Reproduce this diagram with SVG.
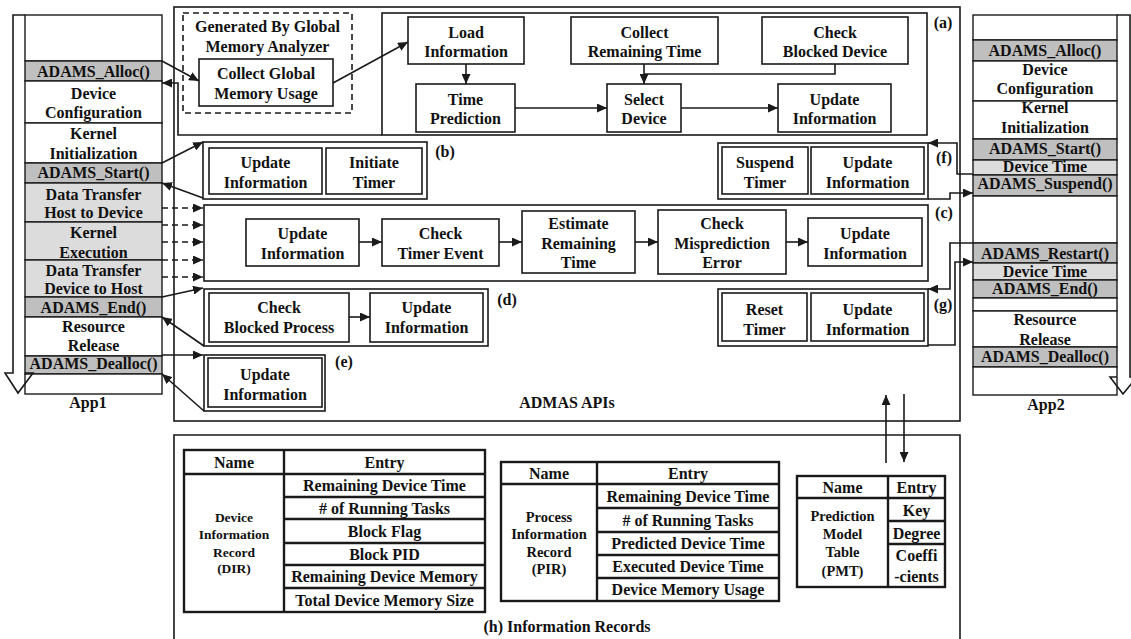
<svg xmlns="http://www.w3.org/2000/svg" width="1131" height="639" viewBox="0 0 1131 639">
<defs>
<style>
.t{font-family:"Liberation Serif","Times New Roman",serif;font-weight:bold;font-size:16px;text-anchor:middle;fill:#111}
.s13{font-size:13.5px}
.s14{font-size:14.5px}
.b{fill:none;stroke:#1a1a1a;stroke-width:1.6}
.bw{fill:#fff;stroke:#1a1a1a;stroke-width:1.6}
.dk{fill:#bfbfbf;stroke:#1a1a1a;stroke-width:1.4}
.lt{fill:#dcdcdc;stroke:#1a1a1a;stroke-width:1.4}
.wh{fill:#fff;stroke:#1a1a1a;stroke-width:1.4}
.ln{fill:none;stroke:#1a1a1a;stroke-width:1.6}
.ds{fill:none;stroke:#1a1a1a;stroke-width:1.6;stroke-dasharray:6 4}
.tb{fill:none;stroke:#1a1a1a;stroke-width:2.4}
</style>
<marker id="ah" markerUnits="userSpaceOnUse" markerWidth="11" markerHeight="9" refX="10" refY="4.5" orient="auto">
<path d="M0,0 L10,4.5 L0,9 z" fill="#1a1a1a"/>
</marker>
</defs>
<rect width="1131" height="639" fill="#fff"/>

<g id="app1">
<rect class="wh" x="25" y="15" width="137" height="46"/>
<rect class="dk" x="25" y="61" width="137" height="20"/>
<rect class="wh" x="25" y="81" width="137" height="42"/>
<rect class="wh" x="25" y="123" width="137" height="40"/>
<rect class="dk" x="25" y="163" width="137" height="20"/>
<rect class="lt" x="25" y="183" width="137" height="39"/>
<rect class="lt" x="25" y="222" width="137" height="38"/>
<rect class="lt" x="25" y="260" width="137" height="37"/>
<rect class="dk" x="25" y="297" width="137" height="20"/>
<rect class="wh" x="25" y="317" width="137" height="39"/>
<rect class="dk" x="25" y="356" width="137" height="18"/>
<rect class="wh" x="25" y="374" width="137" height="20"/>
<polyline class="ln" points="25,15 13,15 13,373 5,373 18,393 33,373 25,373"/>
<text class="t" x="93.5" y="77">ADAMS_Alloc()</text>
<text class="t" x="93.5" y="99">Device</text>
<text class="t" x="93.5" y="118">Configuration</text>
<text class="t" x="93.5" y="139">Kernel</text>
<text class="t" x="93.5" y="159">Initialization</text>
<text class="t" x="93.5" y="178">ADAMS_Start()</text>
<text class="t" x="93.5" y="200">Data Transfer</text>
<text class="t" x="93.5" y="218">Host to Device</text>
<text class="t" x="93.5" y="238">Kernel</text>
<text class="t" x="93.5" y="258">Execution</text>
<text class="t" x="93.5" y="276">Data Transfer</text>
<text class="t" x="93.5" y="294">Device to Host</text>
<text class="t" x="93.5" y="313">ADAMS_End()</text>
<text class="t" x="93.5" y="332">Resource</text>
<text class="t" x="93.5" y="351">Release</text>
<text class="t" x="93.5" y="369">ADAMS_Dealloc()</text>
<text class="t" x="88" y="408">App1</text>
</g>

<g id="app2">
<rect class="wh" x="973" y="15" width="144" height="25"/>
<rect class="dk" x="973" y="40" width="144" height="21"/>
<rect class="wh" x="973" y="61" width="144" height="40"/>
<rect class="wh" x="973" y="101" width="144" height="38"/>
<rect class="dk" x="973" y="139" width="144" height="21"/>
<rect class="lt" x="973" y="160" width="144" height="15"/>
<rect class="dk" x="973" y="175" width="144" height="21"/>
<rect class="wh" x="973" y="196" width="144" height="47"/>
<rect class="dk" x="973" y="243" width="144" height="20"/>
<rect class="lt" x="973" y="263" width="144" height="17"/>
<rect class="dk" x="973" y="280" width="144" height="18"/>
<rect class="wh" x="973" y="298" width="144" height="13"/>
<rect class="wh" x="973" y="311" width="144" height="36"/>
<rect class="dk" x="973" y="347" width="144" height="20"/>
<rect class="wh" x="973" y="367" width="144" height="28"/>
<polyline class="ln" points="1117,15 1130,15 1130,377 1137,377 1123,394 1110,377 1117,377"/>
<text class="t" x="1045" y="56">ADAMS_Alloc()</text>
<text class="t" x="1045" y="75">Device</text>
<text class="t" x="1045" y="94">Configuration</text>
<text class="t" x="1045" y="113">Kernel</text>
<text class="t" x="1045" y="133">Initialization</text>
<text class="t" x="1045" y="154">ADAMS_Start()</text>
<text class="t" x="1045" y="172">Device Time</text>
<text class="t" x="1045" y="189">ADAMS_Suspend()</text>
<text class="t" x="1045" y="259">ADAMS_Restart()</text>
<text class="t" x="1045" y="277">Device Time</text>
<text class="t" x="1045" y="294">ADAMS_End()</text>
<text class="t" x="1045" y="325">Resource</text>
<text class="t" x="1045" y="345">Release</text>
<text class="t" x="1045" y="362">ADAMS_Dealloc()</text>
<text class="t" x="1046" y="410">App2</text>
</g>

<g id="admas">
<rect class="b" x="174" y="7" width="786" height="414"/>
<text class="t" x="567" y="408">ADMAS APIs</text>
</g>

<g id="gma">
<rect class="ds" x="183" y="13" width="169" height="100"/>
<text class="t" x="267.5" y="32">Generated By Global</text>
<text class="t" x="267.5" y="52">Memory Analyzer</text>
</g>
<g id="collect-global">
<rect class="b" x="199" y="59" width="134" height="47"/>
<text class="t" x="266" y="79">Collect Global</text>
<text class="t" x="266" y="99">Memory Usage</text>
</g>

<g id="box-a">
<rect class="b" x="382" y="13" width="545" height="122"/>
<text class="t" x="943" y="28">(a)</text>
</g>
<g id="load-info">
<rect class="b" x="408" y="17" width="116" height="47"/>
<text class="t" x="466" y="38">Load</text>
<text class="t" x="466" y="57">Information</text>
</g>
<g id="collect-rt">
<rect class="b" x="571" y="17" width="147" height="47"/>
<text class="t" x="644.5" y="38">Collect</text>
<text class="t" x="644.5" y="57">Remaining Time</text>
</g>
<g id="check-bd">
<rect class="b" x="762" y="17" width="146" height="47"/>
<text class="t" x="835" y="38">Check</text>
<text class="t" x="835" y="57">Blocked Device</text>
</g>
<g id="time-pred">
<rect class="b" x="416" y="84" width="99" height="48"/>
<text class="t" x="465.5" y="104.5">Time</text>
<text class="t" x="465.5" y="123.5">Prediction</text>
</g>
<g id="select-dev">
<rect class="b" x="607" y="84" width="74" height="48"/>
<text class="t" x="644" y="104.5">Select</text>
<text class="t" x="644" y="123.5">Device</text>
</g>
<g id="update-a">
<rect class="b" x="778" y="84" width="113" height="48"/>
<text class="t" x="834.5" y="104.5">Update</text>
<text class="t" x="834.5" y="123.5">Information</text>
</g>

<g id="box-b">
<rect class="b" x="203" y="142" width="224" height="57"/>
<rect class="b" x="209" y="148" width="113" height="46"/>
<rect class="b" x="326" y="148" width="96" height="46"/>
<text class="t" x="265.5" y="167.5">Update</text>
<text class="t" x="265.5" y="187.5">Information</text>
<text class="t" x="374" y="167.5">Initiate</text>
<text class="t" x="374" y="187.5">Timer</text>
<text class="t" x="445" y="157">(b)</text>
</g>

<g id="box-f">
<rect class="b" x="718" y="143" width="210" height="56"/>
<rect class="b" x="722" y="147" width="86" height="47"/>
<rect class="b" x="811" y="147" width="113" height="47"/>
<text class="t" x="765" y="167.5">Suspend</text>
<text class="t" x="765" y="187.5">Timer</text>
<text class="t" x="867.5" y="167.5">Update</text>
<text class="t" x="867.5" y="187.5">Information</text>
<text class="t" x="944" y="163">(f)</text>
</g>

<g id="box-c">
<rect class="b" x="204" y="205" width="724" height="76"/>
<rect class="b" x="246" y="219" width="113" height="47"/>
<text class="t" x="302.5" y="238.5">Update</text>
<text class="t" x="302.5" y="258.5">Information</text>
<rect class="b" x="382" y="219" width="117" height="47"/>
<text class="t" x="440.5" y="238.5">Check</text>
<text class="t" x="440.5" y="258.5">Timer Event</text>
<rect class="b" x="522" y="211" width="113" height="62"/>
<text class="t" x="578.5" y="228.5">Estimate</text>
<text class="t" x="578.5" y="248.5">Remaining</text>
<text class="t" x="578.5" y="267.5">Time</text>
<rect class="b" x="658" y="210" width="128" height="64"/>
<text class="t" x="722" y="229">Check</text>
<text class="t" x="722" y="249">Misprediction</text>
<text class="t" x="722" y="268">Error</text>
<rect class="b" x="808" y="218" width="114" height="48"/>
<text class="t" x="865" y="239">Update</text>
<text class="t" x="865" y="259">Information</text>
<text class="t" x="944" y="218">(c)</text>
</g>

<g id="box-d">
<rect class="b" x="204" y="289" width="284" height="57"/>
<rect class="b" x="209" y="293" width="140" height="49"/>
<rect class="b" x="370" y="293" width="113" height="49"/>
<text class="t" x="279" y="313">Check</text>
<text class="t" x="279" y="333">Blocked Process</text>
<text class="t" x="426.5" y="313">Update</text>
<text class="t" x="426.5" y="333">Information</text>
<text class="t" x="507" y="305">(d)</text>
</g>

<g id="box-g">
<rect class="b" x="718" y="289" width="210" height="57"/>
<rect class="b" x="722" y="293" width="85" height="48"/>
<rect class="b" x="811" y="293" width="113" height="48"/>
<text class="t" x="764.5" y="314.5">Reset</text>
<text class="t" x="764.5" y="334.5">Timer</text>
<text class="t" x="867.5" y="314.5">Update</text>
<text class="t" x="867.5" y="334.5">Information</text>
<text class="t" x="943" y="310">(g)</text>
</g>

<g id="box-e">
<rect class="b" x="204" y="355" width="121" height="56"/>
<rect class="b" x="208" y="358" width="114" height="49"/>
<text class="t" x="265" y="379.5">Update</text>
<text class="t" x="265" y="399.5">Information</text>
<text class="t" x="344" y="367">(e)</text>
</g>

<g id="box-h">
<path class="b" d="M174,640 V435 H960 V640"/>
<text class="t" x="567" y="632">(h) Information Records</text>
</g>

<g id="dir">
<rect class="tb" x="184" y="450" width="301" height="162"/>
<line class="tb" x1="284" y1="450" x2="284" y2="612"/>
<line class="tb" x1="184" y1="474" x2="485" y2="474"/>
<line class="tb" x1="284" y1="497" x2="485" y2="497"/>
<line class="tb" x1="284" y1="519" x2="485" y2="519"/>
<line class="tb" x1="284" y1="543" x2="485" y2="543"/>
<line class="tb" x1="284" y1="565" x2="485" y2="565"/>
<line class="tb" x1="284" y1="588" x2="485" y2="588"/>
<text class="t" x="234" y="467.5">Name</text>
<text class="t" x="384.5" y="467.5">Entry</text>
<text class="t" x="384.5" y="491">Remaining Device Time</text>
<text class="t" x="384.5" y="513.5"># of Running Tasks</text>
<text class="t" x="384.5" y="536.5">Block Flag</text>
<text class="t" x="384.5" y="559.5">Block PID</text>
<text class="t" x="384.5" y="582">Remaining Device Memory</text>
<text class="t" x="384.5" y="605.5">Total Device Memory Size</text>
<text class="t s13" x="234" y="522">Device</text>
<text class="t s13" x="234" y="539">Information</text>
<text class="t s13" x="234" y="557">Record</text>
<text class="t s13" x="234" y="573">(DIR)</text>
</g>

<g id="pir">
<rect class="tb" x="501" y="462" width="278" height="139"/>
<line class="tb" x1="597" y1="462" x2="597" y2="601"/>
<line class="tb" x1="501" y1="484" x2="779" y2="484"/>
<line class="tb" x1="597" y1="508" x2="779" y2="508"/>
<line class="tb" x1="597" y1="532" x2="779" y2="532"/>
<line class="tb" x1="597" y1="555" x2="779" y2="555"/>
<line class="tb" x1="597" y1="578" x2="779" y2="578"/>
<text class="t" x="549" y="478.5">Name</text>
<text class="t" x="688" y="478.5">Entry</text>
<text class="t" x="688" y="501.5">Remaining Device Time</text>
<text class="t" x="688" y="525.5"># of Running Tasks</text>
<text class="t" x="688" y="549">Predicted Device Time</text>
<text class="t" x="688" y="572">Executed Device Time</text>
<text class="t" x="688" y="595">Device Memory Usage</text>
<text class="t s14" x="549" y="522">Process</text>
<text class="t s14" x="549" y="539">Information</text>
<text class="t s14" x="549" y="557">Record</text>
<text class="t s14" x="549" y="574">(PIR)</text>
</g>

<g id="pmt">
<rect class="tb" x="797" y="476" width="148" height="111"/>
<line class="tb" x1="888" y1="476" x2="888" y2="587"/>
<line class="tb" x1="797" y1="498" x2="945" y2="498"/>
<line class="tb" x1="888" y1="521" x2="945" y2="521"/>
<line class="tb" x1="888" y1="544" x2="945" y2="544"/>
<text class="t" x="842.5" y="492.5">Name</text>
<text class="t" x="916.5" y="492.5">Entry</text>
<text class="t" x="916.5" y="516">Key</text>
<text class="t" x="916.5" y="539">Degree</text>
<text class="t" x="916.5" y="561">Coeffi</text>
<text class="t" x="916.5" y="582">-cients</text>
<text class="t s14" x="842.5" y="521">Prediction</text>
<text class="t s14" x="842.5" y="539">Model</text>
<text class="t s14" x="842.5" y="557">Table</text>
<text class="t s14" x="842.5" y="576">(PMT)</text>
</g>

<g id="connectors">
<line class="ln" x1="162" y1="61" x2="199" y2="81" marker-end="url(#ah)"/>
<line class="ln" x1="333" y1="83" x2="408" y2="42" marker-end="url(#ah)"/>
<line class="ln" x1="466" y1="64" x2="466" y2="84" marker-end="url(#ah)"/>
<line class="ln" x1="515" y1="108" x2="607" y2="108" marker-end="url(#ah)"/>
<line class="ln" x1="681" y1="108" x2="778" y2="108" marker-end="url(#ah)"/>
<line class="ln" x1="644" y1="64" x2="644" y2="84" marker-end="url(#ah)"/>
<polyline class="ln" points="835,64 835,74 644,74"/>
<polyline class="ln" points="382,135 178,135 178,83 162,83" marker-end="url(#ah)"/>
<line class="ln" x1="162" y1="163" x2="203" y2="142" marker-end="url(#ah)"/>
<line class="ln" x1="203" y1="198" x2="162" y2="183" marker-end="url(#ah)"/>
<line class="ds" x1="162" y1="208" x2="203" y2="208" marker-end="url(#ah)"/>
<line class="ds" x1="162" y1="225" x2="203" y2="225" marker-end="url(#ah)"/>
<line class="ds" x1="162" y1="242" x2="203" y2="242" marker-end="url(#ah)"/>
<line class="ds" x1="162" y1="260" x2="203" y2="260" marker-end="url(#ah)"/>
<line class="ds" x1="162" y1="277" x2="203" y2="277" marker-end="url(#ah)"/>
<line class="ln" x1="162" y1="297" x2="203" y2="288" marker-end="url(#ah)"/>
<line class="ln" x1="204" y1="346" x2="162" y2="317" marker-end="url(#ah)"/>
<line class="ln" x1="162" y1="355" x2="203" y2="355" marker-end="url(#ah)"/>
<line class="ln" x1="204" y1="411" x2="162" y2="374" marker-end="url(#ah)"/>
<line class="ln" x1="359" y1="242" x2="382" y2="242" marker-end="url(#ah)"/>
<line class="ln" x1="499" y1="242" x2="522" y2="242" marker-end="url(#ah)"/>
<line class="ln" x1="635" y1="242" x2="658" y2="242" marker-end="url(#ah)"/>
<line class="ln" x1="786" y1="242" x2="808" y2="242" marker-end="url(#ah)"/>
<line class="ln" x1="349" y1="317" x2="370" y2="317" marker-end="url(#ah)"/>
<polyline class="ln" points="973,174 957,174 957,143 928,143" marker-end="url(#ah)"/>
<polyline class="ln" points="928,199 950,199 950,193 973,193" marker-end="url(#ah)"/>
<polyline class="ln" points="973,243 950,243 950,289 928,289" marker-end="url(#ah)"/>
<polyline class="ln" points="928,345 955,345 955,262 973,262" marker-end="url(#ah)"/>
<line class="ln" x1="886" y1="463" x2="886" y2="395" marker-end="url(#ah)"/>
<line class="ln" x1="904" y1="394" x2="904" y2="462" marker-end="url(#ah)"/>
</g>
</svg>
